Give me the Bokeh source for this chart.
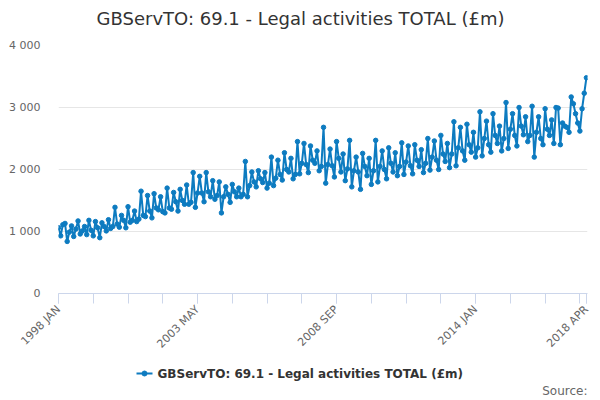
from bokeh.plotting import figure
from bokeh.models import Range1d, FixedTicker
from bokeh.layouts import column
from bokeh.core.properties import value
from bokeh.embed import file_html
from bokeh.resources import INLINE

# ---- data (monthly, 1998 JAN .. 2018 APR) ----
y1998 = [1060, 930, 1110, 1130, 840, 990, 1090, 920, 1040, 1170, 960, 1010]
y1999 = [1080, 950, 1180, 1020, 930, 1160, 1060, 900, 1140, 1080, 1010, 1190]
y2000 = [1050, 1080, 1390, 1120, 1070, 1260, 1180, 1060, 1400, 1150, 1180, 1330]
y2001 = [1160, 1200, 1650, 1260, 1240, 1580, 1330, 1220, 1610, 1380, 1350, 1560]
y2002 = [1320, 1300, 1700, 1380, 1360, 1630, 1480, 1330, 1680, 1500, 1440, 1750]
y2003 = [1440, 1470, 1950, 1390, 1620, 1890, 1620, 1480, 1950, 1640, 1560, 1820]
y2004 = [1520, 1580, 1800, 1300, 1560, 1720, 1600, 1470, 1760, 1640, 1560, 1700]
y2005 = [1560, 1600, 2130, 1560, 1740, 1960, 1800, 1720, 1980, 1850, 1790, 1950]
y2006 = [1700, 1780, 2200, 1740, 1860, 2150, 1920, 1830, 2270, 2000, 1960, 2180]
y2007 = [1850, 1920, 2450, 1930, 2100, 2420, 2080, 1950, 2380, 2150, 2100, 2300]
y2008 = [1980, 2050, 2680, 1780, 2080, 2330, 2060, 1880, 2450, 2180, 1960, 2250]
y2009 = [1820, 2010, 2470, 1720, 1980, 2200, 1960, 1680, 2260, 2050, 1900, 2180]
y2010 = [1760, 1980, 2470, 1800, 2050, 2300, 2000, 1850, 2350, 2100, 1960, 2270]
y2011 = [1900, 2050, 2430, 1920, 2120, 2380, 2060, 1930, 2400, 2150, 2050, 2320]
y2012 = [1950, 2100, 2500, 1990, 2200, 2460, 2150, 2000, 2550, 2250, 2130, 2420]
y2013 = [2030, 2250, 2770, 2060, 2350, 2680, 2300, 2150, 2730, 2400, 2280, 2600]
y2014 = [2200, 2350, 2930, 2220, 2500, 2780, 2400, 2280, 2900, 2550, 2420, 2700]
y2015 = [2300, 2500, 3080, 2340, 2650, 2900, 2550, 2380, 3000, 2700, 2560, 2850]
y2016 = [2450, 2550, 3020, 2200, 2600, 2850, 2500, 2400, 2980, 2650, 2550, 2800]
y2017 = [2420, 3000, 2990, 2400, 2750, 2700, 2680, 2600, 3170, 3060, 2900, 2750]
y2018 = [2620, 2980, 3230, 3480]

years = list(range(1998, 2019))
month_names = ["JAN", "FEB", "MAR", "APR", "MAY", "JUN",
               "JUL", "AUG", "SEP", "OCT", "NOV", "DEC"]
series_by_year = [y1998, y1999, y2000, y2001, y2002, y2003, y2004, y2005,
                  y2006, y2007, y2008, y2009, y2010, y2011, y2012, y2013,
                  y2014, y2015, y2016, y2017, y2018]

categories = []
values = []
for yr, vals in zip(years, series_by_year):
    for m, v in enumerate(vals):
        categories.append(f"{yr} {month_names[m]}")
        values.append(v)
idx = list(range(len(values)))

x_tick_labels = ["1998 JAN", "2003 MAY", "2008 SEP", "2014 JAN", "2018 APR"]
y_ticks = [0, 1000, 2000, 3000, 4000]
y_tick_labels = ["0", "1 000", "2 000", "3 000", "4 000"]

title_text = "GBServTO: 69.1 - Legal activities TOTAL (£m)"
series_name = "GBServTO: 69.1 - Legal activities TOTAL (£m)"
source_text = "Source:"

FONT = "DejaVu Sans"
BLUE = "#0d7bc0"

LEFT, RIGHT, W = 58, 5, 592
last = len(values) - 1


def strip(height):
    f = figure(width=W, height=height, output_backend="svg",
               toolbar_location=None,
               x_range=Range1d(LEFT, W - RIGHT), y_range=Range1d(height, 0),
               x_axis_type=None, y_axis_type=None,
               min_border_left=LEFT, min_border_right=RIGHT,
               min_border_top=0, min_border_bottom=0)
    f.outline_line_color = None
    f.grid.visible = False
    f.border_fill_color = "white"
    return f


# ---- title strip (page-pixel coordinates) ----
t = strip(35)
t.text([300], [18], text=[title_text], text_font=value(FONT),
       text_font_size="18px", text_color="#333333",
       text_baseline="middle", text_align="center")

# ---- main chart ----
p = figure(width=W, height=325, output_backend="svg", toolbar_location=None,
           x_range=Range1d(0, last + 0.5), y_range=Range1d(0, 4000),
           min_border_left=LEFT, min_border_right=RIGHT, min_border_top=10,
           min_border_bottom=67)
p.outline_line_color = None
p.background_fill_color = "white"
p.border_fill_color = "white"

major_x = [categories.index(c) for c in x_tick_labels]
minor_x = list(range(0, last + 1, 16)) + [last]
p.xaxis.ticker = FixedTicker(ticks=major_x, minor_ticks=minor_x)
p.xaxis.major_label_overrides = {i: c for i, c in zip(major_x, x_tick_labels)}
p.xaxis.major_label_orientation = 0.785398
p.xaxis.axis_line_color = "#ccd6eb"
p.xaxis.major_tick_line_color = "#ccd6eb"
p.xaxis.minor_tick_line_color = "#ccd6eb"
p.xaxis.major_tick_in = 0
p.xaxis.major_tick_out = 10
p.xaxis.minor_tick_in = 0
p.xaxis.minor_tick_out = 10
p.xaxis.major_label_text_font = FONT
p.xaxis.major_label_text_font_size = "11px"
p.xaxis.major_label_text_color = "#666666"
p.xaxis.major_label_standoff = 4
p.xgrid.grid_line_color = None

p.yaxis.ticker = FixedTicker(ticks=y_ticks)
p.yaxis.major_label_overrides = {t_: l for t_, l in zip(y_ticks, y_tick_labels)}
p.yaxis.axis_line_color = None
p.yaxis.major_tick_line_color = None
p.yaxis.minor_tick_line_color = None
p.yaxis.major_label_text_font = FONT
p.yaxis.major_label_text_font_size = "11px"
p.yaxis.major_label_text_color = "#666666"
p.yaxis.major_label_standoff = 12
p.ygrid.grid_line_color = "#e6e6e6"

p.line(idx, values, line_color=BLUE, line_width=2)
p.scatter(idx, values, size=4.5, fill_color=BLUE, line_color=BLUE)

# ---- legend / source strip (page-pixel coordinates) ----
q = strip(40)
q.line([136, 152], [13, 13], line_color=BLUE, line_width=2)
q.scatter([144], [13], size=5, fill_color=BLUE, line_color=BLUE)
q.text([157], [13], text=[series_name], text_font=value(FONT),
       text_font_size="12px", text_font_style="bold", text_color="#333333",
       text_baseline="middle", text_align="left")
q.text([W - RIGHT], [30], text=[source_text], text_font=value(FONT),
       text_font_size="12px", text_color="#666666",
       text_baseline="middle", text_align="right")

layout = column(t, p, q, spacing=0)
open("out.html", "w").write(file_html(layout, INLINE))
